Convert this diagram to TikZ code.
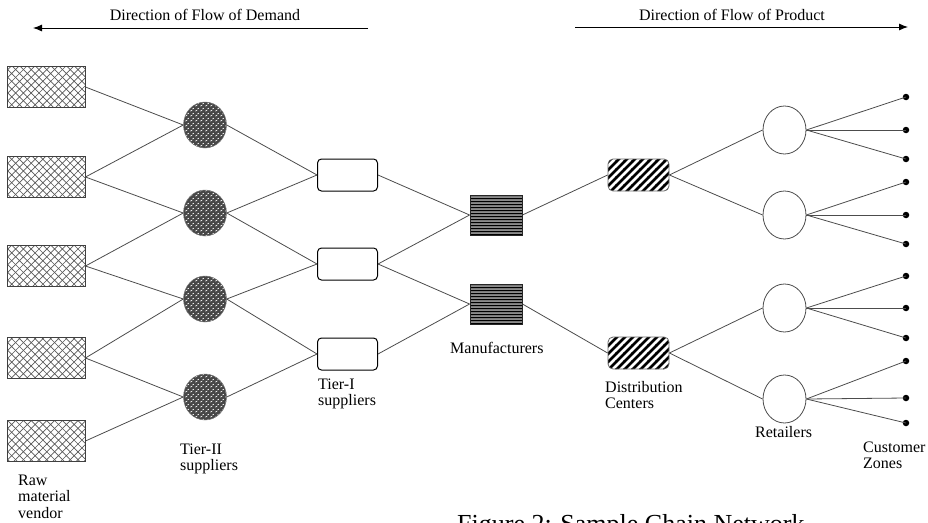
\documentclass[tikz,border=0pt]{standalone}
\usepackage{fontspec}
\setmainfont{Liberation Serif}
\usetikzlibrary{patterns,arrows.meta,shapes.geometric}

\pgfdeclarepatternformonly{rawhatch}{\pgfqpoint{-1pt}{-1pt}}{\pgfqpoint{8.8pt}{8.8pt}}{\pgfqpoint{7.8pt}{7.8pt}}{%
  \pgfsetlinewidth{0.7pt}%
  \pgfpathmoveto{\pgfqpoint{-0.1pt}{-0.1pt}}\pgfpathlineto{\pgfqpoint{7.9pt}{7.9pt}}%
  \pgfpathmoveto{\pgfqpoint{-0.1pt}{7.9pt}}\pgfpathlineto{\pgfqpoint{7.9pt}{-0.1pt}}%
  \pgfusepath{stroke}}

\pgfdeclarepatternformonly{stipple}{\pgfqpoint{0pt}{0pt}}{\pgfqpoint{5pt}{5pt}}{\pgfqpoint{5pt}{5pt}}{%
  \pgfsetlinewidth{0.8pt}%
  \pgfpathmoveto{\pgfqpoint{0.5pt}{1pt}}\pgfpathlineto{\pgfqpoint{2.5pt}{2pt}}%
  \pgfpathmoveto{\pgfqpoint{3pt}{3.5pt}}\pgfpathlineto{\pgfqpoint{4.5pt}{4.5pt}}%
  \pgfusepath{stroke}}

\pgfdeclarepatternformonly{mfrlines}{\pgfqpoint{0pt}{0pt}}{\pgfqpoint{3.3pt}{3.3pt}}{\pgfqpoint{3.3pt}{3.3pt}}{%
  \pgfsetlinewidth{1.1pt}%
  \pgfpathmoveto{\pgfqpoint{-0.1pt}{1.65pt}}\pgfpathlineto{\pgfqpoint{3.4pt}{1.65pt}}%
  \pgfusepath{stroke}}

\pgfdeclarepatternformonly{dcstripes}{\pgfqpoint{-1pt}{-1pt}}{\pgfqpoint{9pt}{9pt}}{\pgfqpoint{8pt}{8pt}}{%
  \pgfsetlinewidth{2.6pt}%
  \pgfpathmoveto{\pgfqpoint{-1pt}{-1pt}}\pgfpathlineto{\pgfqpoint{9pt}{9pt}}%
  \pgfusepath{stroke}}

\tikzset{
  rawbox/.style={rectangle, draw=black!75, line width=0.9pt, minimum width=78pt, minimum height=41pt, inner sep=0pt, pattern=rawhatch, pattern color=black!65},
  tiertwo/.style={ellipse, minimum width=43pt, minimum height=46pt, inner sep=0pt, draw=black!55, line width=0.5pt, preaction={fill=black!72}, pattern=stipple, pattern color=white},
  tierone/.style={rectangle, rounded corners=4pt, draw=black, line width=1pt, minimum width=60pt, minimum height=32pt, inner sep=0pt},
  mfr/.style={rectangle, draw=black!85, line width=0.9pt, minimum width=52pt, minimum height=40pt, preaction={fill=black!45}, pattern=mfrlines, pattern color=black, inner sep=0pt},
  dcbox/.style={rectangle, rounded corners=5pt, draw=black!60, line width=0.8pt, minimum width=61pt, minimum height=32pt, pattern=dcstripes, pattern color=black, inner sep=0pt},
  retail/.style={ellipse, draw=black!70, line width=0.8pt, minimum width=43pt, minimum height=48pt, inner sep=0pt},
  cdot/.style={circle, fill=black, inner sep=0pt, minimum size=6.5pt},
  conn/.style={draw=black!70, line width=0.8pt},
  flowarrow/.style={draw=black, line width=0.9pt, -{Latex[length=9pt,width=7pt]}},
  lbl/.style={font=\fontsize{16}{16.5}\selectfont, inner sep=0pt, align=left, anchor=north west},
  lblone/.style={font=\fontsize{16}{16.5}\selectfont, inner sep=0pt, anchor=base west},
}

\begin{document}
\begin{tikzpicture}[x=1pt,y=-1pt]
\useasboundingbox (0,0) rectangle (928,522);
\clip (0,0) rectangle (928,522);

% flow arrows
\coordinate (dS) at (368,28);
\coordinate (dE) at (33,28);
\coordinate (pS) at (575,27);
\coordinate (pE) at (908,27);
\draw[flowarrow] (dS) -- (dE);
\draw[flowarrow] (pS) -- (pE);
\node[font=\fontsize{16}{16.5}\selectfont, inner sep=0pt, anchor=base] (dT) at (205,20) {Direction of Flow of Demand};
\node[font=\fontsize{16}{16.5}\selectfont, inner sep=0pt, anchor=base] (pT) at (732,20) {Direction of Flow of Product};

% raw material vendors
\node[rawbox] (raw1) at (46,87) {};
\node[rawbox] (raw2) at (46,177) {};
\node[rawbox] (raw3) at (46,266) {};
\node[rawbox] (raw4) at (46,358) {};
\node[rawbox] (raw5) at (46,441) {};

% tier-II suppliers
\node[tiertwo] (t2a) at (205,125) {};
\node[tiertwo] (t2b) at (205,213) {};
\node[tiertwo] (t2c) at (205,299) {};
\node[tiertwo] (t2d) at (205,397) {};

% tier-I suppliers
\node[tierone] (t1a) at (347.5,175) {};
\node[tierone] (t1b) at (347.5,264) {};
\node[tierone] (t1c) at (347.5,354) {};

% manufacturers
\node[mfr] (m1) at (496,215) {};
\node[mfr] (m2) at (496,304) {};

% distribution centers
\node[dcbox] (dc1) at (638.5,175) {};
\node[dcbox] (dc2) at (638.5,353) {};

% retailers
\node[retail] (r1) at (784.5,130) {};
\node[retail] (r2) at (784.5,215) {};
\node[retail] (r3) at (784.5,308) {};
\node[retail] (r4) at (784.5,399) {};

% customer zones
\node[cdot] (c1) at (906,97) {};
\node[cdot] (c2) at (906,130) {};
\node[cdot] (c3) at (906,159) {};
\node[cdot] (c4) at (906,182) {};
\node[cdot] (c5) at (906,215) {};
\node[cdot] (c6) at (906,244) {};
\node[cdot] (c7) at (906,276) {};
\node[cdot] (c8) at (906,308) {};
\node[cdot] (c9) at (906,338) {};
\node[cdot] (c10) at (906,361) {};
\node[cdot] (c11) at (906,398) {};
\node[cdot] (c12) at (906,423) {};

% connectors
\draw[conn] (raw1.east) -- (t2a.west);
\draw[conn] (raw2.east) -- (t2a.west);
\draw[conn] (raw2.east) -- (t2b.west);
\draw[conn] (raw3.east) -- (t2b.west);
\draw[conn] (raw3.east) -- (t2c.west);
\draw[conn] (raw4.east) -- (t2c.west);
\draw[conn] (raw4.east) -- (t2d.west);
\draw[conn] (raw5.east) -- (t2d.west);

\draw[conn] (t2a.east) -- (t1a.west);
\draw[conn] (t2b.east) -- (t1a.west);
\draw[conn] (t2b.east) -- (t1b.west);
\draw[conn] (t2c.east) -- (t1b.west);
\draw[conn] (t2c.east) -- (t1c.west);
\draw[conn] (t2d.east) -- (t1c.west);

\draw[conn] (t1a.east) -- (m1.west);
\draw[conn] (t1b.east) -- (m1.west);
\draw[conn] (t1b.east) -- (m2.west);
\draw[conn] (t1c.east) -- (m2.west);

\draw[conn] (m1.east) -- (dc1.west);
\draw[conn] (m2.east) -- (dc2.west);

\draw[conn] (dc1.east) -- (r1.west);
\draw[conn] (dc1.east) -- (r2.west);
\draw[conn] (dc2.east) -- (r3.west);
\draw[conn] (dc2.east) -- (r4.west);

\draw[conn] (r1.east) -- (c1.center);
\draw[conn] (r1.east) -- (c2.center);
\draw[conn] (r1.east) -- (c3.center);
\draw[conn] (r2.east) -- (c4.center);
\draw[conn] (r2.east) -- (c5.center);
\draw[conn] (r2.east) -- (c6.center);
\draw[conn] (r3.east) -- (c7.center);
\draw[conn] (r3.east) -- (c8.center);
\draw[conn] (r3.east) -- (c9.center);
\draw[conn] (r4.east) -- (c10.center);
\draw[conn] (r4.east) -- (c11.center);
\draw[conn] (r4.east) -- (c12.center);

% labels
\node[lbl] (lraw) at (18,473.5) {\strut Raw\\material\\vendor};
\node[lbl] (lt2) at (180,442.5) {\strut Tier-II\\suppliers};
\node[lbl] (lt1) at (318,377.5) {\strut Tier-I\\suppliers};
\node[lblone] (lm) at (450,353) {Manufacturers};
\node[lbl] (ldc) at (605,380.5) {\strut Distribution\\Centers};
\node[lblone] (lr) at (755,437) {Retailers};
\node[lbl] (lc) at (863,440.5) {\strut Customer\\Zones};

% caption (cut by the page edge)
\node[font=\fontsize{26}{28}\selectfont, inner sep=0pt, anchor=base west] (cap) at (457,532) {Figure 2: Sample Chain Network};
\end{tikzpicture}
\end{document}
